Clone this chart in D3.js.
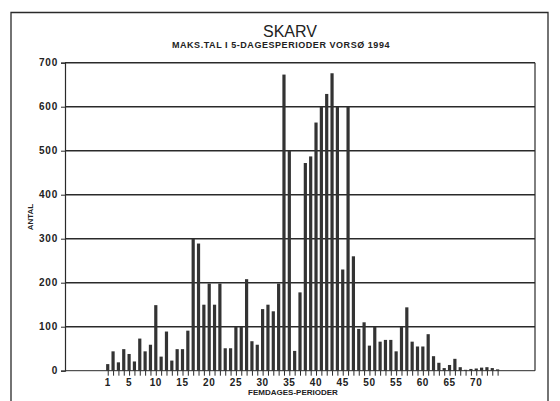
<!DOCTYPE html>
<html>
<head>
<meta charset="utf-8">
<script src="https://cdn.jsdelivr.net/npm/d3@7"></script>
<style>
  html, body { margin: 0; padding: 0; background: #fff; }
  svg { display: block; }
  text { font-family: "Liberation Sans", Arial, sans-serif; fill: #222; }
</style>
</head>
<body>
<svg id="chart" width="560" height="401"></svg>
<script>
const title = "SKARV";
const subtitle = "MAKS.TAL I 5-DAGESPERIODER VORSØ 1994";
const yLabel = "ANTAL";
const xLabel = "FEMDAGES-PERIODER";
const periods = d3.range(1, 75);
const values = [15, 44, 19, 49, 38, 21, 73, 44, 59, 149,
                32, 89, 23, 49, 49, 91, 300, 289, 150, 198,
                150, 198, 51, 51, 100, 100, 208, 67, 59, 140,
                150, 135, 198, 673, 500, 45, 178, 472, 487, 564,
                600, 629, 676, 600, 230, 600, 260, 95, 110, 57,
                100, 66, 70, 70, 44, 100, 144, 66, 55, 55,
                83, 33, 18, 6, 13, 27, 8, 2, 4, 5,
                7, 8, 6, 3];
const yTicks = [0, 100, 200, 300, 400, 500, 600, 700];
const xTickLabels = [1, 5, 10, 15, 20, 25, 30, 35, 40, 45, 50, 55, 60, 65, 70];

const svg = d3.select("#chart");
const pLeft = 65, pRight = 535, pTop = 62.7, pBottom = 370.7;
const x = d3.scaleLinear().domain([-7, 81]).range([pLeft, pRight]);
const y = d3.scaleLinear().domain([0, 700]).range([pBottom, pTop]);
const ink = "#2a2a2a";

// outer frame
svg.append("path")
  .attr("d", "M11,401 V12.5 H548 V401")
  .attr("fill", "none").attr("stroke", ink).attr("stroke-width", 1.3);

// title
svg.append("text").attr("x", 290).attr("y", 37).attr("text-anchor", "middle")
  .style("font-size", "16px").text(title);
svg.append("text").attr("x", 281).attr("y", 48).attr("text-anchor", "middle")
  .style("font-size", "9px").style("font-weight", "bold").style("letter-spacing", "0.55px")
  .text(subtitle);

// gridlines
svg.append("g").selectAll("line").data(yTicks).join("line")
  .attr("x1", pLeft).attr("x2", pRight)
  .attr("y1", d => y(d)).attr("y2", d => y(d))
  .attr("stroke", ink).attr("stroke-width", d => d === 0 ? 1 : 1.5);

// plot right border
svg.append("line").attr("x1", pRight).attr("x2", pRight).attr("y1", pTop).attr("y2", pBottom)
  .attr("stroke", ink).attr("stroke-width", 1.2);

// y axis
const yAxis = d3.axisLeft(y).tickValues(yTicks).tickSize(4).tickPadding(3);
const gy = svg.append("g").attr("transform", `translate(${pLeft},0)`).call(yAxis);
gy.select(".domain").attr("stroke", ink).attr("stroke-width", 1.2);
gy.selectAll(".tick line").attr("stroke", ink);
gy.selectAll("text").style("font-size", "10px").style("font-weight", "bold")
  .style("letter-spacing", "0.8px")
  .style("font-family", "'Liberation Sans', Arial, sans-serif").attr("fill", ink);

// x axis ticks
const xAxis = d3.axisBottom(x).tickValues(periods).tickSize(5).tickFormat("");
const gx = svg.append("g").attr("transform", `translate(0,${pBottom})`).call(xAxis);
gx.select(".domain").remove();
gx.selectAll(".tick line").attr("stroke", ink);
svg.append("g").selectAll("text").data(xTickLabels).join("text")
  .attr("x", d => x(d)).attr("y", pBottom + 15).attr("text-anchor", "middle")
  .style("font-size", "10px").style("font-weight", "bold").style("letter-spacing", "0.6px")
  .text(d => d);

// bars
svg.append("g").selectAll("rect").data(periods).join("rect")
  .attr("x", d => x(d) - 1.6).attr("width", 3.2)
  .attr("y", (d, i) => y(values[i]))
  .attr("height", (d, i) => pBottom - y(values[i]))
  .attr("fill", "#333");

// axis labels
svg.append("text").attr("transform", `translate(33,217) rotate(-90)`)
  .attr("text-anchor", "middle").style("font-size", "8px").style("font-weight", "bold").text(yLabel);
svg.append("text").attr("x", 293).attr("y", pBottom + 24).attr("text-anchor", "middle")
  .style("font-size", "8px").style("font-weight", "bold").text(xLabel);
</script>
</body>
</html>
